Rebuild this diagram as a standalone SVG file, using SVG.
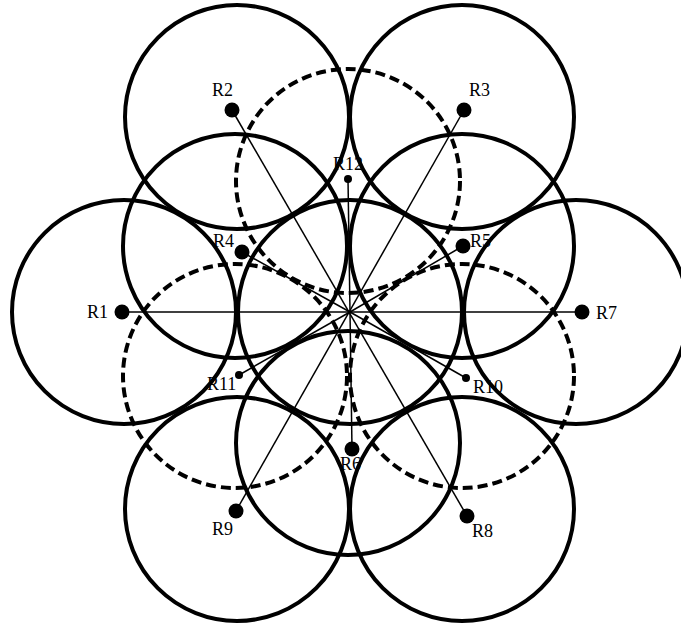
<svg xmlns="http://www.w3.org/2000/svg" width="681" height="629" viewBox="0 0 681 629">
<style>
.c{fill:none;stroke:#000;stroke-width:4}
.d{fill:none;stroke:#000;stroke-width:4;stroke-dasharray:10 5}
.l{stroke:#000;stroke-width:1.5;fill:none}
.big{fill:#000}
.t{font-family:"Liberation Serif","Times New Roman",serif;font-size:18px;fill:#000}
</style>
<rect width="681" height="629" fill="#fff"/>
<g id="circles">
<circle class="c" cx="350" cy="312" r="112"/>
<circle class="c" cx="124" cy="312" r="112"/>
<circle class="c" cx="576" cy="312" r="112"/>
<circle class="c" cx="237" cy="117" r="112"/>
<circle class="c" cx="462" cy="117" r="112"/>
<circle class="c" cx="237" cy="509" r="112"/>
<circle class="c" cx="462" cy="509" r="112"/>
<circle class="c" cx="235" cy="246" r="112"/>
<circle class="c" cx="462" cy="246" r="112"/>
<circle class="c" cx="348" cy="443" r="112"/>
<circle class="d" cx="348" cy="181" r="112"/>
<circle class="d" cx="235" cy="376" r="112"/>
<circle class="d" cx="462" cy="376" r="112"/>
</g>
<g id="connectors" class="l">
<line x1="122" y1="312" x2="582" y2="312"/>
<line x1="232" y1="110" x2="467" y2="516"/>
<line x1="464" y1="110" x2="236" y2="511"/>
<line x1="242" y1="252" x2="350" y2="312"/>
<line x1="463" y1="246" x2="350" y2="312"/>
<line x1="239" y1="375" x2="350" y2="312"/>
<line x1="466" y1="378" x2="350" y2="312"/>
<line x1="348" y1="179" x2="350" y2="312"/>
<line x1="352" y1="449" x2="350" y2="312"/>
</g>
<g id="R1"><circle class="big" cx="122" cy="312" r="7.5"/><text class="t" x="87" y="318">R1</text></g>
<g id="R2"><circle class="big" cx="232" cy="110" r="7.5"/><text class="t" x="212" y="96">R2</text></g>
<g id="R3"><circle class="big" cx="464" cy="110" r="7.5"/><text class="t" x="469" y="96">R3</text></g>
<g id="R4"><circle class="big" cx="242" cy="252" r="7.5"/><text class="t" x="213" y="247">R4</text></g>
<g id="R5"><circle class="big" cx="463" cy="246" r="7.5"/><text class="t" x="470" y="247">R5</text></g>
<g id="R6"><circle class="big" cx="352" cy="449" r="7.5"/><text class="t" x="340" y="470">R6</text></g>
<g id="R7"><circle class="big" cx="582" cy="312" r="7.5"/><text class="t" x="596" y="319">R7</text></g>
<g id="R8"><circle class="big" cx="467" cy="516" r="7.5"/><text class="t" x="472" y="537">R8</text></g>
<g id="R9"><circle class="big" cx="236" cy="511" r="7.5"/><text class="t" x="212" y="535">R9</text></g>
<g id="R10"><circle class="big" cx="466" cy="378" r="4"/><text class="t" x="473" y="393">R10</text></g>
<g id="R11"><circle class="big" cx="239" cy="375" r="4"/><text class="t" x="207" y="390">R11</text></g>
<g id="R12"><circle class="big" cx="348" cy="179" r="4"/><text class="t" x="333" y="170">R12</text></g>
</svg>
